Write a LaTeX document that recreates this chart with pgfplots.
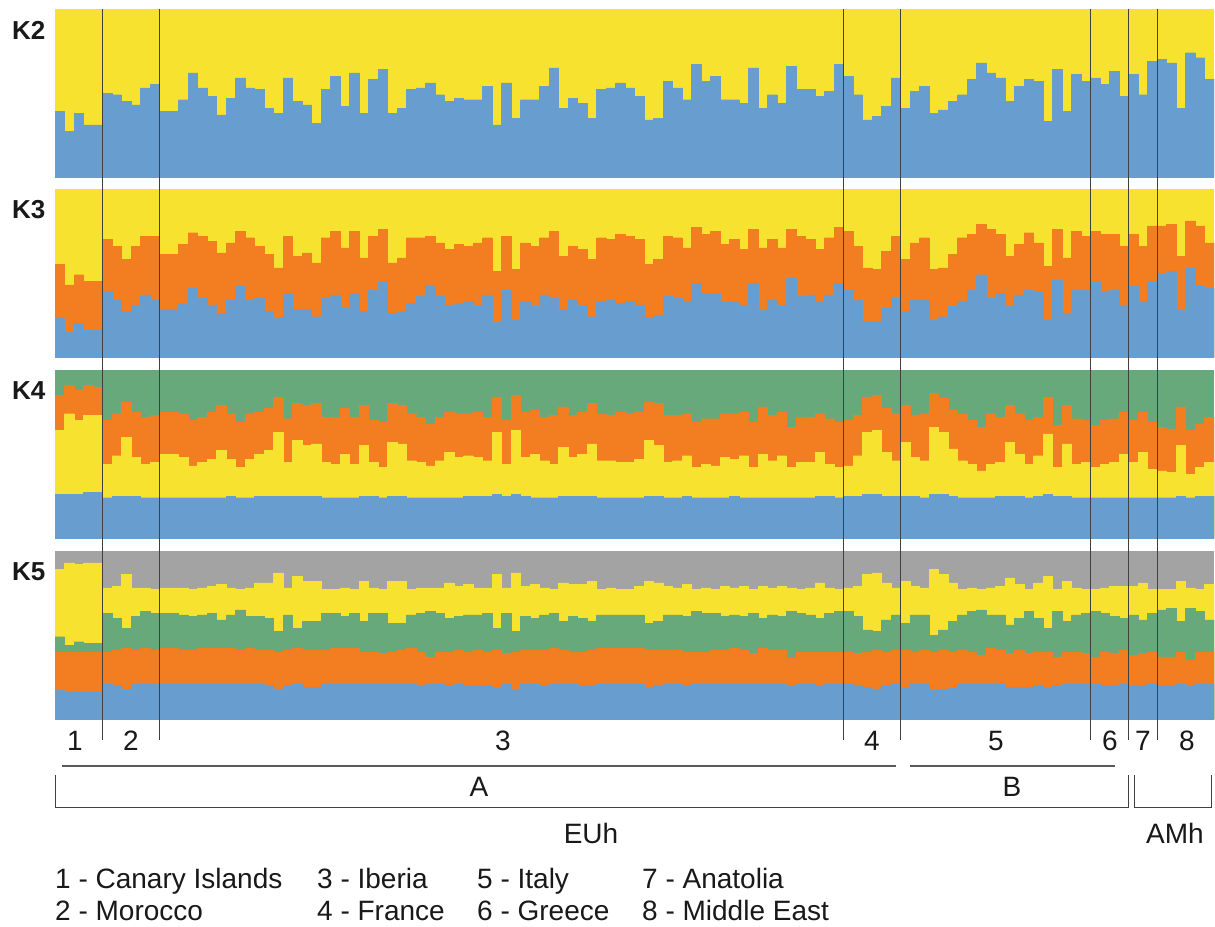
\documentclass[border=0pt]{standalone}
\usepackage{fontspec}
\setmainfont{Liberation Sans}
\usepackage{pgfplots}
\usepackage{pgfplotstable}
\pgfplotsset{compat=1.18}
\definecolor{cblue}{HTML}{689ECF}
\definecolor{cyellow}{HTML}{F7E22F}
\definecolor{corange}{HTML}{F37E22}
\definecolor{cgreen}{HTML}{67A97B}
\definecolor{cgray}{HTML}{A3A3A3}

% K2: top of blue cluster (yellow above)
\pgfplotstableread{
b
0.39
0.27
0.38
0.31
0.31
0.50
0.49
0.45
0.43
0.53
0.55
0.39
0.39
0.46
0.62
0.53
0.48
0.37
0.47
0.59
0.53
0.52
0.41
0.38
0.59
0.45
0.43
0.32
0.52
0.60
0.42
0.62
0.38
0.58
0.64
0.38
0.41
0.52
0.53
0.56
0.49
0.45
0.47
0.46
0.46
0.54
0.31
0.56
0.35
0.46
0.46
0.54
0.65
0.41
0.47
0.44
0.35
0.52
0.53
0.56
0.53
0.48
0.34
0.35
0.57
0.53
0.46
0.67
0.57
0.60
0.46
0.46
0.44
0.65
0.41
0.49
0.44
0.66
0.52
0.52
0.48
0.51
0.67
0.60
0.49
0.34
0.36
0.42
0.59
0.41
0.51
0.54
0.38
0.40
0.45
0.49
0.58
0.68
0.62
0.59
0.45
0.54
0.58
0.57
0.33
0.64
0.39
0.61
0.57
0.59
0.55
0.63
0.48
0.61
0.49
0.69
0.70
0.68
0.41
0.74
0.71
0.58
}\kii

% K3: cumulative tops of blue, orange (yellow above)
\pgfplotstableread{
b o
0.23 0.55
0.15 0.43
0.20 0.49
0.16 0.45
0.16 0.45
0.39 0.70
0.34 0.66
0.27 0.58
0.31 0.66
0.37 0.72
0.34 0.72
0.28 0.61
0.28 0.61
0.32 0.67
0.41 0.74
0.35 0.72
0.31 0.69
0.26 0.62
0.34 0.68
0.42 0.75
0.34 0.71
0.35 0.66
0.27 0.61
0.23 0.53
0.38 0.72
0.28 0.60
0.28 0.62
0.24 0.56
0.35 0.71
0.37 0.75
0.29 0.65
0.38 0.75
0.27 0.59
0.40 0.72
0.45 0.76
0.26 0.56
0.27 0.59
0.32 0.71
0.36 0.71
0.43 0.72
0.36 0.68
0.31 0.64
0.32 0.67
0.33 0.66
0.31 0.68
0.37 0.71
0.21 0.51
0.40 0.72
0.22 0.52
0.33 0.68
0.30 0.66
0.37 0.71
0.35 0.75
0.28 0.60
0.34 0.66
0.31 0.64
0.24 0.58
0.33 0.71
0.34 0.70
0.32 0.73
0.33 0.72
0.31 0.70
0.23 0.55
0.25 0.58
0.36 0.72
0.35 0.71
0.33 0.65
0.44 0.77
0.38 0.73
0.38 0.75
0.33 0.67
0.33 0.70
0.31 0.64
0.44 0.76
0.28 0.65
0.34 0.70
0.31 0.65
0.47 0.76
0.36 0.72
0.37 0.70
0.33 0.64
0.37 0.71
0.44 0.77
0.40 0.75
0.34 0.66
0.21 0.53
0.21 0.52
0.29 0.63
0.35 0.72
0.27 0.58
0.34 0.68
0.34 0.71
0.22 0.52
0.24 0.53
0.30 0.61
0.33 0.71
0.40 0.73
0.49 0.79
0.35 0.76
0.38 0.73
0.30 0.60
0.37 0.67
0.40 0.74
0.39 0.68
0.22 0.54
0.46 0.76
0.26 0.59
0.40 0.75
0.40 0.72
0.45 0.75
0.39 0.73
0.40 0.73
0.31 0.66
0.42 0.73
0.33 0.66
0.45 0.78
0.50 0.78
0.51 0.79
0.28 0.60
0.53 0.81
0.42 0.78
0.41 0.68
}\kiii

% K4: cumulative tops of blue, yellow, orange (green above)
\pgfplotstableread{
b y o
0.26 0.64 0.85
0.26 0.74 0.91
0.26 0.70 0.88
0.27 0.73 0.91
0.27 0.73 0.90
0.24 0.44 0.70
0.25 0.49 0.74
0.25 0.60 0.81
0.25 0.48 0.75
0.24 0.44 0.72
0.24 0.45 0.73
0.24 0.50 0.75
0.24 0.50 0.75
0.24 0.48 0.74
0.24 0.43 0.70
0.24 0.45 0.72
0.24 0.47 0.75
0.24 0.52 0.79
0.25 0.47 0.74
0.24 0.42 0.69
0.24 0.47 0.74
0.25 0.50 0.75
0.25 0.52 0.77
0.25 0.63 0.84
0.25 0.45 0.71
0.25 0.58 0.80
0.25 0.55 0.79
0.25 0.56 0.80
0.24 0.45 0.72
0.24 0.44 0.72
0.24 0.50 0.77
0.24 0.44 0.72
0.25 0.55 0.79
0.25 0.45 0.70
0.24 0.42 0.69
0.25 0.57 0.80
0.25 0.56 0.79
0.24 0.46 0.74
0.24 0.45 0.72
0.24 0.43 0.68
0.24 0.46 0.72
0.24 0.51 0.75
0.24 0.48 0.74
0.25 0.49 0.74
0.25 0.48 0.75
0.25 0.46 0.72
0.26 0.63 0.84
0.25 0.44 0.70
0.26 0.64 0.85
0.25 0.48 0.75
0.24 0.50 0.76
0.24 0.46 0.72
0.24 0.44 0.73
0.25 0.54 0.78
0.25 0.48 0.73
0.25 0.50 0.75
0.25 0.56 0.80
0.24 0.46 0.74
0.24 0.46 0.73
0.24 0.45 0.75
0.24 0.45 0.74
0.24 0.47 0.75
0.25 0.58 0.81
0.25 0.55 0.80
0.24 0.45 0.73
0.24 0.46 0.73
0.25 0.49 0.74
0.24 0.42 0.69
0.24 0.44 0.71
0.24 0.43 0.71
0.24 0.48 0.74
0.25 0.47 0.74
0.24 0.49 0.75
0.24 0.42 0.69
0.24 0.50 0.78
0.24 0.46 0.73
0.24 0.49 0.75
0.24 0.42 0.66
0.24 0.45 0.72
0.24 0.45 0.72
0.25 0.51 0.74
0.25 0.44 0.71
0.24 0.42 0.69
0.25 0.43 0.70
0.25 0.49 0.73
0.26 0.63 0.84
0.26 0.64 0.85
0.25 0.51 0.77
0.25 0.46 0.74
0.25 0.57 0.79
0.25 0.48 0.73
0.24 0.46 0.74
0.26 0.66 0.86
0.26 0.63 0.83
0.25 0.53 0.76
0.24 0.46 0.74
0.24 0.44 0.70
0.24 0.40 0.66
0.24 0.44 0.74
0.25 0.45 0.72
0.25 0.57 0.79
0.25 0.50 0.74
0.24 0.44 0.70
0.25 0.49 0.72
0.26 0.62 0.84
0.25 0.42 0.67
0.25 0.56 0.79
0.24 0.44 0.71
0.24 0.45 0.70
0.24 0.42 0.67
0.24 0.44 0.70
0.24 0.45 0.71
0.24 0.50 0.75
0.24 0.45 0.70
0.24 0.51 0.75
0.24 0.41 0.69
0.24 0.40 0.66
0.24 0.39 0.65
0.25 0.55 0.78
0.24 0.38 0.64
0.25 0.42 0.68
0.25 0.45 0.72
}\kiv

% K5: cumulative tops of blue, orange, green, yellow (grey above)
\pgfplotstableread{
b o g y
0.17 0.40 0.49 0.89
0.16 0.40 0.44 0.93
0.16 0.40 0.46 0.92
0.16 0.40 0.45 0.93
0.16 0.40 0.45 0.93
0.21 0.40 0.63 0.78
0.20 0.41 0.60 0.79
0.18 0.42 0.54 0.86
0.21 0.41 0.61 0.78
0.21 0.42 0.64 0.78
0.21 0.41 0.63 0.77
0.21 0.42 0.63 0.78
0.21 0.42 0.63 0.78
0.21 0.41 0.62 0.78
0.21 0.41 0.61 0.77
0.21 0.42 0.62 0.78
0.21 0.42 0.63 0.79
0.21 0.42 0.59 0.80
0.21 0.42 0.62 0.78
0.21 0.41 0.65 0.77
0.21 0.42 0.61 0.78
0.21 0.41 0.61 0.81
0.20 0.41 0.60 0.81
0.18 0.40 0.52 0.87
0.20 0.41 0.62 0.78
0.21 0.42 0.54 0.85
0.19 0.41 0.58 0.82
0.19 0.41 0.58 0.82
0.21 0.41 0.63 0.77
0.21 0.42 0.63 0.77
0.21 0.42 0.61 0.78
0.21 0.42 0.63 0.77
0.21 0.40 0.58 0.82
0.21 0.40 0.63 0.78
0.21 0.39 0.63 0.77
0.21 0.40 0.57 0.82
0.21 0.41 0.57 0.82
0.21 0.42 0.62 0.77
0.20 0.40 0.63 0.78
0.21 0.37 0.64 0.78
0.21 0.40 0.63 0.78
0.20 0.40 0.60 0.81
0.21 0.41 0.61 0.79
0.20 0.40 0.62 0.80
0.20 0.41 0.62 0.78
0.20 0.40 0.63 0.78
0.19 0.41 0.54 0.86
0.21 0.39 0.63 0.78
0.18 0.40 0.52 0.87
0.21 0.41 0.61 0.79
0.21 0.41 0.60 0.80
0.20 0.41 0.62 0.78
0.21 0.42 0.63 0.77
0.21 0.41 0.58 0.81
0.21 0.40 0.61 0.80
0.20 0.40 0.60 0.80
0.20 0.41 0.58 0.82
0.21 0.42 0.62 0.77
0.21 0.42 0.62 0.78
0.21 0.42 0.62 0.77
0.21 0.42 0.62 0.77
0.21 0.42 0.62 0.79
0.19 0.41 0.57 0.82
0.20 0.41 0.58 0.81
0.21 0.41 0.62 0.79
0.21 0.41 0.62 0.78
0.20 0.40 0.61 0.80
0.21 0.40 0.64 0.77
0.21 0.40 0.63 0.78
0.21 0.41 0.63 0.77
0.21 0.41 0.61 0.79
0.21 0.42 0.62 0.78
0.21 0.41 0.61 0.79
0.21 0.39 0.63 0.77
0.21 0.42 0.60 0.79
0.21 0.41 0.62 0.78
0.21 0.41 0.61 0.79
0.20 0.36 0.64 0.78
0.21 0.40 0.63 0.77
0.21 0.40 0.62 0.78
0.20 0.40 0.60 0.81
0.21 0.40 0.63 0.78
0.21 0.40 0.64 0.77
0.21 0.40 0.64 0.78
0.20 0.39 0.61 0.79
0.19 0.40 0.53 0.86
0.18 0.41 0.52 0.87
0.20 0.40 0.59 0.81
0.21 0.41 0.62 0.78
0.19 0.41 0.57 0.82
0.21 0.40 0.62 0.79
0.21 0.41 0.62 0.78
0.17 0.40 0.50 0.89
0.18 0.41 0.53 0.86
0.19 0.40 0.58 0.81
0.21 0.41 0.62 0.77
0.21 0.40 0.64 0.78
0.21 0.38 0.65 0.77
0.21 0.42 0.62 0.78
0.21 0.41 0.62 0.79
0.19 0.39 0.56 0.84
0.19 0.41 0.60 0.80
0.19 0.39 0.64 0.77
0.20 0.40 0.60 0.81
0.19 0.40 0.54 0.85
0.20 0.37 0.64 0.77
0.21 0.40 0.58 0.82
0.21 0.40 0.62 0.78
0.21 0.39 0.63 0.77
0.21 0.37 0.64 0.77
0.20 0.40 0.63 0.78
0.20 0.39 0.61 0.79
0.21 0.41 0.60 0.79
0.20 0.38 0.62 0.79
0.20 0.39 0.59 0.81
0.21 0.40 0.63 0.77
0.20 0.37 0.65 0.77
0.20 0.37 0.66 0.77
0.21 0.40 0.58 0.82
0.20 0.35 0.66 0.78
0.21 0.40 0.64 0.77
0.21 0.40 0.59 0.80
}\kv

\pgfplotsset{
  strplot/.style={anchor=north west, width=1159pt, height=168pt, scale only axis,
    xmin=0, xmax=122, ymin=0, ymax=1, axis lines=none, ticks=none,
    ybar, bar width=1, bar shift=0pt, clip=true,
    axis background/.style={fill=#1}},
  lay/.style={fill=#1, draw=#1, line width=0.35pt},
}

\begin{document}
\begin{tikzpicture}[x=1pt,y=-1pt]
\path[use as bounding box, fill=white] (0,0) rectangle (1215,926);

\begin{axis}[strplot=cyellow, at={(55pt,-9pt)}]
\addplot[lay=cblue] table[x expr=\coordindex+0.5, y=b] {\kii};
\end{axis}

\begin{axis}[strplot=cyellow, at={(55pt,-189pt)}]
\addplot[lay=corange] table[x expr=\coordindex+0.5, y=o] {\kiii};
\addplot[lay=cblue] table[x expr=\coordindex+0.5, y=b] {\kiii};
\end{axis}

\begin{axis}[strplot=cgreen, at={(55pt,-370pt)}]
\addplot[lay=corange] table[x expr=\coordindex+0.5, y=o] {\kiv};
\addplot[lay=cyellow] table[x expr=\coordindex+0.5, y=y] {\kiv};
\addplot[lay=cblue] table[x expr=\coordindex+0.5, y=b] {\kiv};
\end{axis}

\begin{axis}[strplot=cgray, at={(55pt,-551pt)}]
\addplot[lay=cyellow] table[x expr=\coordindex+0.5, y=y] {\kv};
\addplot[lay=cgreen] table[x expr=\coordindex+0.5, y=g] {\kv};
\addplot[lay=corange] table[x expr=\coordindex+0.5, y=o] {\kv};
\addplot[lay=cblue] table[x expr=\coordindex+0.5, y=b] {\kv};
\end{axis}

% panel labels
\begin{scope}[every node/.style={anchor=west, inner sep=0pt, font=\fontsize{26}{30}\selectfont\bfseries, text=black!90}]
\node at (12,30) {K2};
\node at (12,210) {K3};
\node at (12,391) {K4};
\node at (12,572) {K5};
\end{scope}

% group separators
\foreach \gx in {102.5,159.5,843.5,900.5,1090.5,1128.5,1157}
  \draw[black!75, line width=0.9pt] (\gx,9) -- (\gx,740);

% group numbers
\begin{scope}[every node/.style={anchor=base, inner sep=0pt, font=\fontsize{28}{32}\selectfont, text=black!90}]
\node at (75,750) {1};
\node at (131,750) {2};
\node at (503,750) {3};
\node at (872,750) {4};
\node at (996,750) {5};
\node at (1110,750) {6};
\node at (1143,750) {7};
\node at (1187,750) {8};
\node at (479,796) {A};
\node at (1012,796) {B};
\node at (591,843) {EUh};
\node at (1175,843) {AMh};
\end{scope}

\draw[black!65, line width=1.3pt] (62,766) -- (896,766);
\draw[black!65, line width=1.3pt] (910,766) -- (1115,766);
\draw[black!75, line width=1pt] (55,775) -- (55,807) -- (1128,807) -- (1128,775);
\draw[black!75, line width=1pt] (1134,775) -- (1134,807) -- (1211,807) -- (1211,775);

% legend
\begin{scope}[every node/.style={anchor=base west, inner sep=0pt, font=\fontsize{28}{32}\selectfont, text=black!90}]
\node at (55,888) {1 - Canary Islands};
\node at (55,920) {2 - Morocco};
\node at (317,888) {3 - Iberia};
\node at (317,920) {4 - France};
\node at (477,888) {5 - Italy};
\node at (477,920) {6 - Greece};
\node at (642,888) {7 - Anatolia};
\node at (642,920) {8 - Middle East};
\end{scope}
\end{tikzpicture}
\end{document}
